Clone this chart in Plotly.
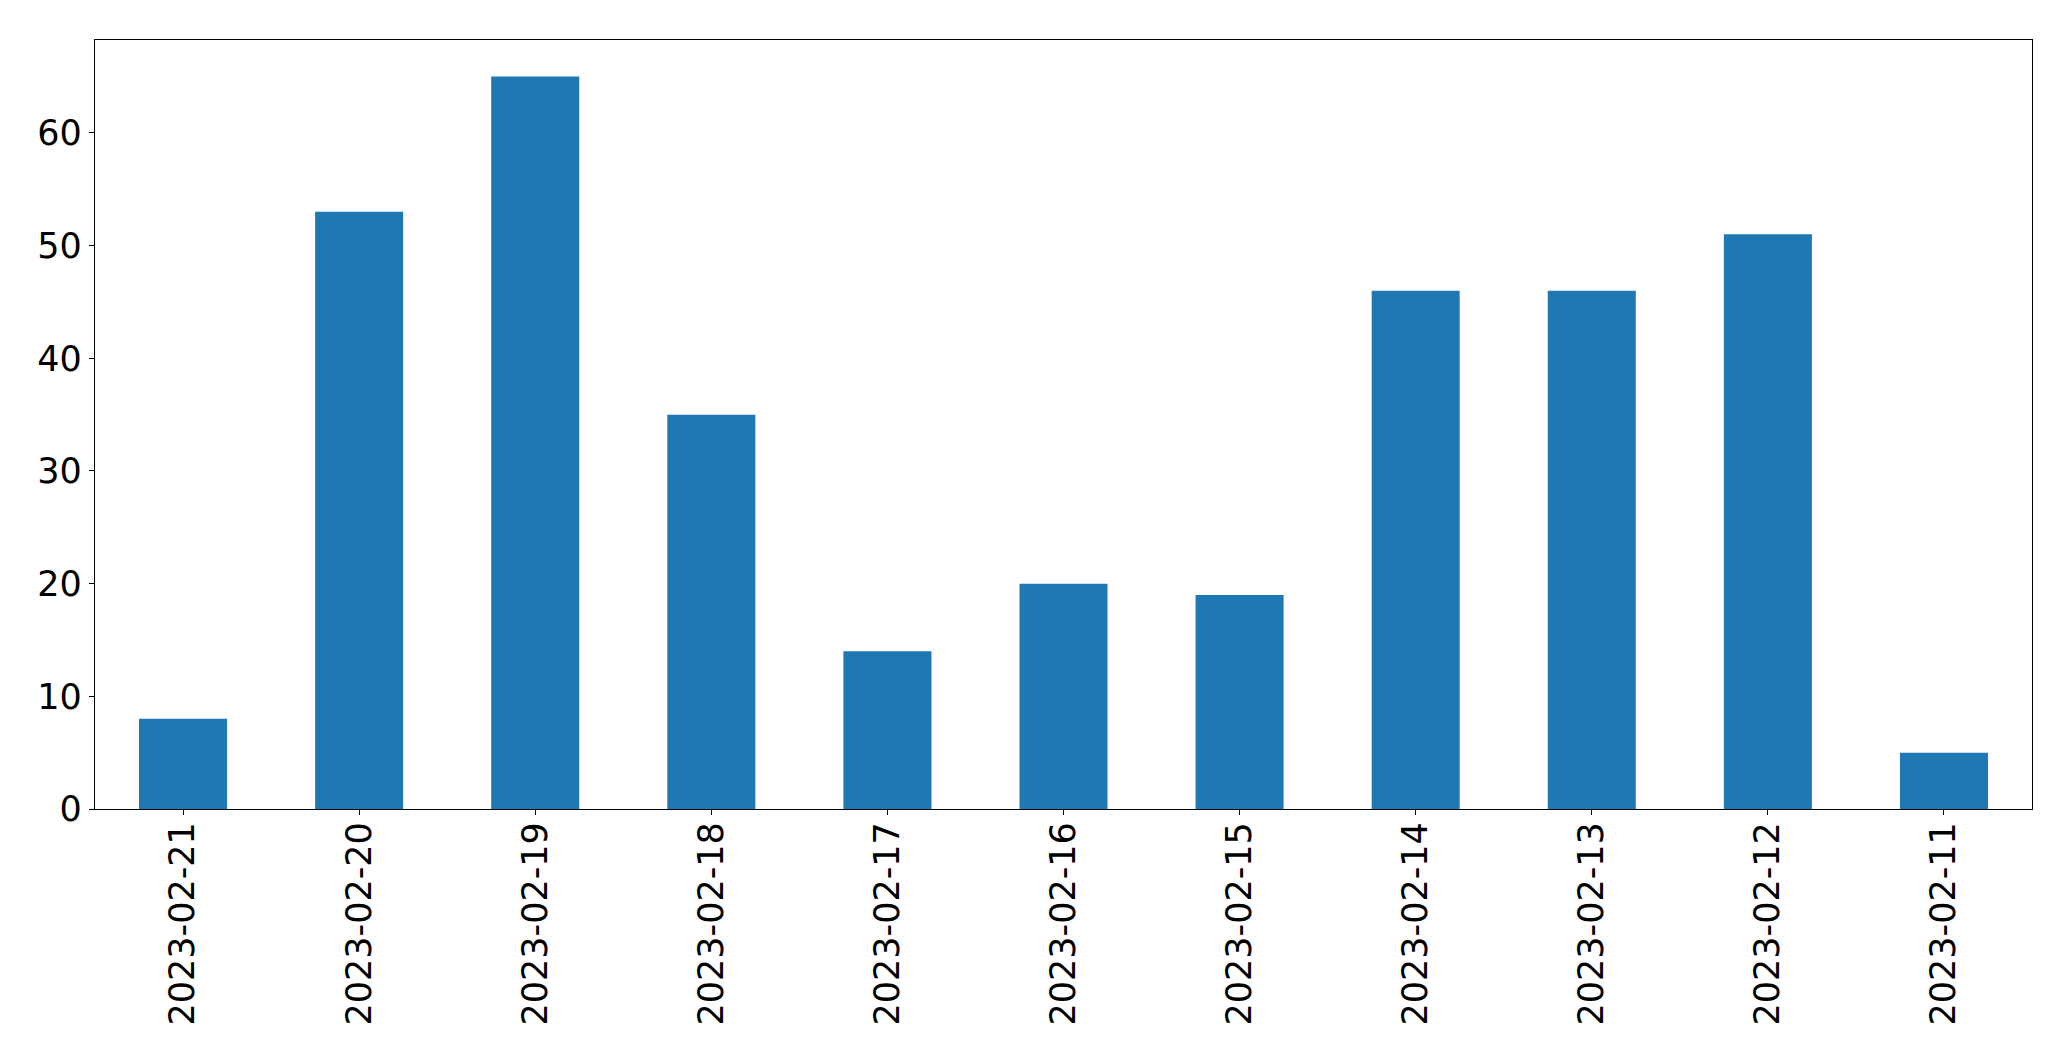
import plotly.graph_objects as go

dates = ["2023-02-21", "2023-02-20", "2023-02-19", "2023-02-18", "2023-02-17",
         "2023-02-16", "2023-02-15", "2023-02-14", "2023-02-13", "2023-02-12", "2023-02-11"]
counts = [8, 53, 65, 35, 14, 20, 19, 46, 46, 51, 5]
y_ticks = [0, 10, 20, 30, 40, 50, 60]

fig = go.Figure(go.Bar(x=dates, y=counts, width=0.5, marker_color="#1f77b4",
                       marker_line_width=0))
fig.update_layout(
    width=2055, height=1045,
    margin=dict(l=86.5, r=31.3, t=31.5, b=244),
    paper_bgcolor="white", plot_bgcolor="white",
    font=dict(family="DejaVu Sans", size=35, color="black"),
    showlegend=False,
)
fig.update_xaxes(type="category", range=[-0.5, 10.5], tickangle=-90,
                 showline=True, linecolor="black", linewidth=1.3, mirror=True,
                 ticks="outside", ticklen=5, tickcolor="black", tickwidth=1.3,
                 ticklabelstandoff=-7,
                 showgrid=False, zeroline=False)
fig.update_yaxes(range=[0, 68.25], tickvals=y_ticks,
                 showline=True, linecolor="black", linewidth=1.3, mirror=True,
                 ticks="outside", ticklen=5, tickcolor="black", tickwidth=1.3,
                 showgrid=False, zeroline=False)
fig.write_html("out.html")
